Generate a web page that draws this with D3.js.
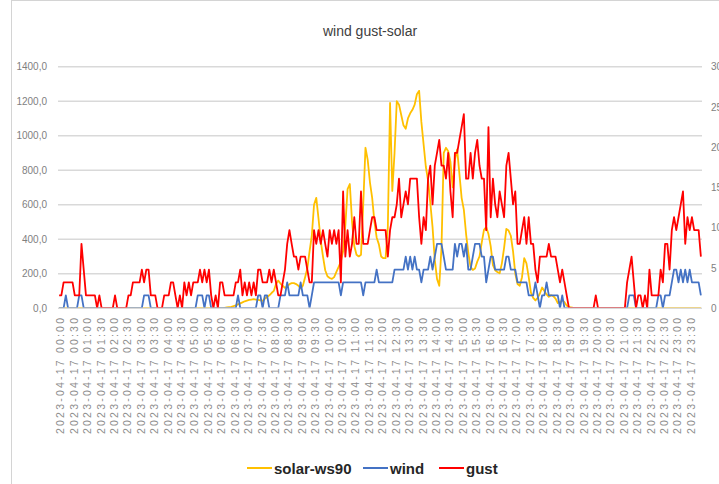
<!DOCTYPE html>
<html>
<head>
<meta charset="utf-8">
<script src="https://cdn.jsdelivr.net/npm/d3@7/dist/d3.min.js"></script>
<style>
  body { margin: 0; background: #fff; }
  text { font-family: "Liberation Sans", Arial, sans-serif; }
</style>
</head>
<body>
<svg id="chart" width="719" height="484"></svg>
<script>
// 5-minute samples for 2023-04-17, one row per hour (12 values)
var solar = [
  0,0,0,0,0,0,0,0,0,0,0,0,
  0,0,0,0,0,0,0,0,0,0,0,0,
  0,0,0,0,0,0,0,0,0,0,0,0,
  0,0,0,0,0,0,0,0,0,0,0,0,
  0,0,0,0,0,0,0,0,0,0,0,0,
  0,0,0,0,0,0,0,0,0,0,0,0,
  0,0,2,4,6,8,12,16,22,28,34,40,
  44,48,50,52,50,48,45,42,55,65,75,88,
  100,140,160,143,130,118,125,140,145,145,140,130,
  115,130,180,230,330,420,600,640,520,390,300,220,
  185,175,170,180,210,240,270,330,480,690,720,500,
  360,310,300,310,600,930,860,730,640,500,410,370,
  300,290,290,470,1190,680,900,1200,1180,1120,1060,1040,
  1100,1130,1150,1180,1240,1260,1080,950,820,740,610,470,
  280,170,130,350,900,930,910,850,700,860,920,780,
  640,570,430,320,240,222,230,270,300,380,454,470,
  430,360,250,220,210,202,260,350,460,450,420,330,
  200,140,130,180,290,260,180,90,60,45,60,85,
  120,100,80,66,75,70,56,30,35,47,35,15,
  8,4,2,1,0,0,0,0,0,0,0,0,
  0,0,0,0,0,0,0,0,0,0,0,0,
  0,0,0,0,0,0,0,0,0,0,0,0,
  0,0,0,0,0,0,0,0,0,0,0,0,
  0,0,0,0,0,0,0,0,0,0,0,0
];

var wind = [
  0,0,0,1.6,0,0,0,0,0,1.6,1.6,0,
  0,0,0,0,0,0,0,0,0,0,0,0,
  0,0,0,0,0,0,0,0,0,0,0,0,
  0,0,1.6,1.6,1.6,0,0,0,0,0,0,0,
  0,0,0,0,0,0,0,0,0,0,0,0,
  0,0,1.6,1.6,1.6,0,1.6,1.6,0,0,0,0,
  0,0,0,0,0,0,0,0,1.6,0,0,0,
  0,0,0,0,0,1.6,1.6,0,1.6,1.6,0,0,
  0,0,0,1.6,1.6,1.6,3.2,1.6,1.6,1.6,1.6,1.6,
  3.2,1.6,1.6,1.6,0,1.6,3.2,3.2,3.2,3.2,3.2,3.2,
  3.2,3.2,3.2,3.2,3.2,3.2,1.6,3.2,3.2,3.2,3.2,3.2,
  3.2,3.2,3.2,3.2,1.6,3.2,3.2,3.2,3.2,3.2,4.8,3.2,
  3.2,3.2,3.2,3.2,3.2,3.2,4.8,4.8,4.8,4.8,4.8,6.4,
  4.8,6.4,4.8,6.4,4.8,4.8,3.2,4.8,4.8,4.8,6.4,4.8,
  6.4,8,8,8,6.4,4.8,4.8,4.8,4.8,8,6.4,8,
  8,6.4,8,4.8,4.8,6.4,8,8,8,6.4,6.4,3.2,
  4.8,6.4,6.4,4.8,4.8,4.8,4.8,4.8,6.4,6.4,4.8,4.8,
  4.8,3.2,3.2,3.2,3.2,3.2,1.6,1.6,1.6,3.2,1.6,0,
  1.6,1.6,3.2,1.6,1.6,1.6,1.6,1.6,0,1.6,0,0,
  0,0,0,0,0,0,0,0,0,0,0,0,
  0,0,0,0,0,0,0,0,0,0,0,0,
  0,0,0,1.6,1.6,1.6,0,0,0,0,0,0,
  0,0,0,0,1.6,1.6,0,1.6,1.6,1.6,3.2,4.8,
  4.8,3.2,4.8,3.2,4.8,3.2,4.8,3.2,3.2,3.2,3.2,1.6
];

var gust = [
  1.6,1.6,3.2,3.2,3.2,3.2,3.2,1.6,1.6,1.6,8,4.8,
  1.6,1.6,1.6,1.6,1.6,0,1.6,0,0,0,0,0,
  0,1.6,0,0,0,0,0,1.6,1.6,3.2,3.2,3.2,
  3.2,4.8,3.2,4.8,4.8,1.6,1.6,1.6,0,0,0,1.6,
  1.6,1.6,3.2,3.2,1.6,0,1.6,0,3.2,1.6,3.2,1.6,
  3.2,3.2,3.2,4.8,3.2,4.8,3.2,4.8,1.6,0,1.6,0,
  3.2,3.2,1.6,1.6,1.6,1.6,1.6,3.2,3.2,4.8,1.6,3.2,
  1.6,3.2,1.6,3.2,1.6,4.8,4.8,3.2,3.2,3.2,4.8,3.2,
  4.8,3.2,1.6,1.6,3.2,4.8,8,9.7,8,6.4,6.4,4.8,
  6.4,6.4,6.4,4.8,3.2,3.2,9.7,8,9.7,8,9.7,8,
  6.4,9.7,8,9.7,8,9.7,3.2,14.5,6.4,9.7,6.4,8,
  11.3,8,8,14.5,8,8,8,9.7,11.3,11.3,9.7,9.7,
  9.7,9.7,9.7,6.4,9.7,11.3,11.3,12.9,16.1,11.3,12.9,14.5,
  12.9,16.1,16.1,16.1,16.1,11.3,8,11.3,9.7,16.1,17.7,12.9,
  17.7,19.3,20.9,17.7,17.7,16.1,19.3,14.5,11.3,19.3,19.3,20.9,
  22.5,24.1,16.1,16.1,19.3,16.1,19.3,20.9,17.7,16.1,16.1,9.7,
  22.5,11.3,16.1,12.9,11.3,14.5,12.9,11.3,17.7,19.3,16.1,12.9,
  14.5,8,8,9.7,11.3,8,11.3,8,8,4.8,3.2,6.4,
  6.4,6.4,6.4,8,6.4,6.4,6.4,4.8,3.2,4.8,3.2,1.6,
  0,0,0,0,0,0,0,0,0,0,0,0,
  1.6,0,0,0,0,0,0,0,0,0,0,0,
  0,0,3.2,4.8,6.4,3.2,0,1.6,1.6,0,1.6,0,
  4.8,1.6,1.6,1.6,1.6,4.8,3.2,8,8,4.8,9.7,11.3,
  9.7,11.3,12.9,14.5,8,11.3,9.7,11.3,9.7,9.7,9.7,6.4
];

var leftTicks = [0, 200, 400, 600, 800, 1000, 1200, 1400];
var rightTicks = [0, 5, 10, 15, 20, 25, 30];

// category labels "2023-04-17 HH:MM", one per 5 minutes
var times = d3.range(288).map(function (i) {
    var h = Math.floor(i / 12), m = (i % 12) * 5;
    return "2023-04-17 " + d3.format("02d")(h) + ":" + d3.format("02d")(m);
});
var tickLabels = times.filter(function (d, i) { return i % 6 === 0; });

var series = [
    {name: "solar-ws90", values: solar, axis: "left", color: "#FFC000"},
    {name: "wind", values: wind, axis: "right", color: "#4472C4"},
    {name: "gust", values: gust, axis: "right", color: "#FF0000"}
];

var plot = {left: 58, right: 702, top: 66.7, bottom: 308.2};
var svg = d3.select("#chart");

var x = d3.scalePoint().domain(times).range([plot.left, plot.right]).padding(0.5);
var yLeft = d3.scaleLinear().domain([0, 1400]).range([plot.bottom, plot.top]);
var yRight = d3.scaleLinear().domain([0, 30]).range([plot.bottom, plot.top]);

// chart frame edges
svg.append("line").attr("x1", 11.5).attr("x2", 11.5).attr("y1", 0).attr("y2", 484)
    .attr("stroke", "#d4d4d4").attr("stroke-width", 1);
svg.append("line").attr("x1", 11).attr("x2", 719).attr("y1", 0.5).attr("y2", 0.5)
    .attr("stroke", "#d4d4d4").attr("stroke-width", 1);

svg.append("text").attr("x", 370).attr("y", 36).attr("text-anchor", "middle")
    .style("font-size", "14px").style("fill", "#404040").text("wind gust-solar");

// gridlines
svg.append("g").selectAll("line").data(leftTicks.slice(1)).enter().append("line")
    .attr("x1", plot.left).attr("x2", plot.right)
    .attr("y1", function (d) { return yLeft(d); })
    .attr("y2", function (d) { return yLeft(d); })
    .attr("stroke", "#d9d9d9").attr("stroke-width", 1.4);

var leftAxis = svg.append("g").attr("transform", "translate(" + plot.left + ",0)")
    .call(d3.axisLeft(yLeft).tickValues(leftTicks).tickSize(0).tickPadding(11)
        .tickFormat(function (d) { return d3.format(".1f")(d).replace(".", ","); }));
leftAxis.select(".domain").remove();
leftAxis.selectAll("text").style("font-size", "10px").style("fill", "#7f7f7f")
    .style("font-family", "'Liberation Sans', Arial, sans-serif");

var rightAxis = svg.append("g").attr("transform", "translate(" + plot.right + ",0)")
    .call(d3.axisRight(yRight).tickValues(rightTicks).tickSize(0).tickPadding(9));
rightAxis.select(".domain").remove();
rightAxis.selectAll("text").style("font-size", "10px").style("fill", "#7f7f7f")
    .style("font-family", "'Liberation Sans', Arial, sans-serif");

svg.append("clipPath").attr("id", "plotclip").append("rect")
    .attr("x", plot.left - 2).attr("y", 0)
    .attr("width", plot.right - plot.left + 4).attr("height", plot.bottom);

var g = svg.append("g").attr("clip-path", "url(#plotclip)");
series.forEach(function (s) {
    var yScale = s.axis === "left" ? yLeft : yRight;
    var line = d3.line()
        .x(function (d, i) { return x(times[i]); })
        .y(function (d) { return yScale(d); });
    g.append("path").datum(s.values)
        .attr("d", line)
        .attr("fill", "none")
        .attr("stroke", s.color)
        .attr("stroke-width", 1.8)
        .attr("stroke-linejoin", "round");
});

// category axis line
svg.append("line").attr("x1", plot.left).attr("x2", plot.right)
    .attr("y1", plot.bottom).attr("y2", plot.bottom)
    .attr("stroke", "#d9d9d9").attr("stroke-width", 1.5);

// rotated time labels
svg.append("g").selectAll("text").data(tickLabels).enter().append("text")
    .attr("transform", function (d) {
        return "translate(" + (x(d) + 1.5) + ",318) rotate(-90)";
    })
    .attr("text-anchor", "end")
    .attr("dy", "0.35em")
    .attr("textLength", 116)
    .attr("lengthAdjust", "spacing")
    .style("font-size", "10.5px")
    .style("fill", "#8c8c8c")
    .text(function (d) { return d; });

// legend
var legendItems = [
    {s: series[0], x: 247},
    {s: series[1], x: 363},
    {s: series[2], x: 439}
];
var legend = svg.append("g");
legendItems.forEach(function (d) {
    legend.append("line").attr("x1", d.x).attr("x2", d.x + 25)
        .attr("y1", 468).attr("y2", 468)
        .attr("stroke", d.s.color).attr("stroke-width", 2);
    legend.append("text").attr("x", d.x + 27).attr("y", 474)
        .style("font-size", "15px").style("font-weight", "bold").style("fill", "#262626")
        .text(d.s.name);
});
</script>
</body>
</html>
